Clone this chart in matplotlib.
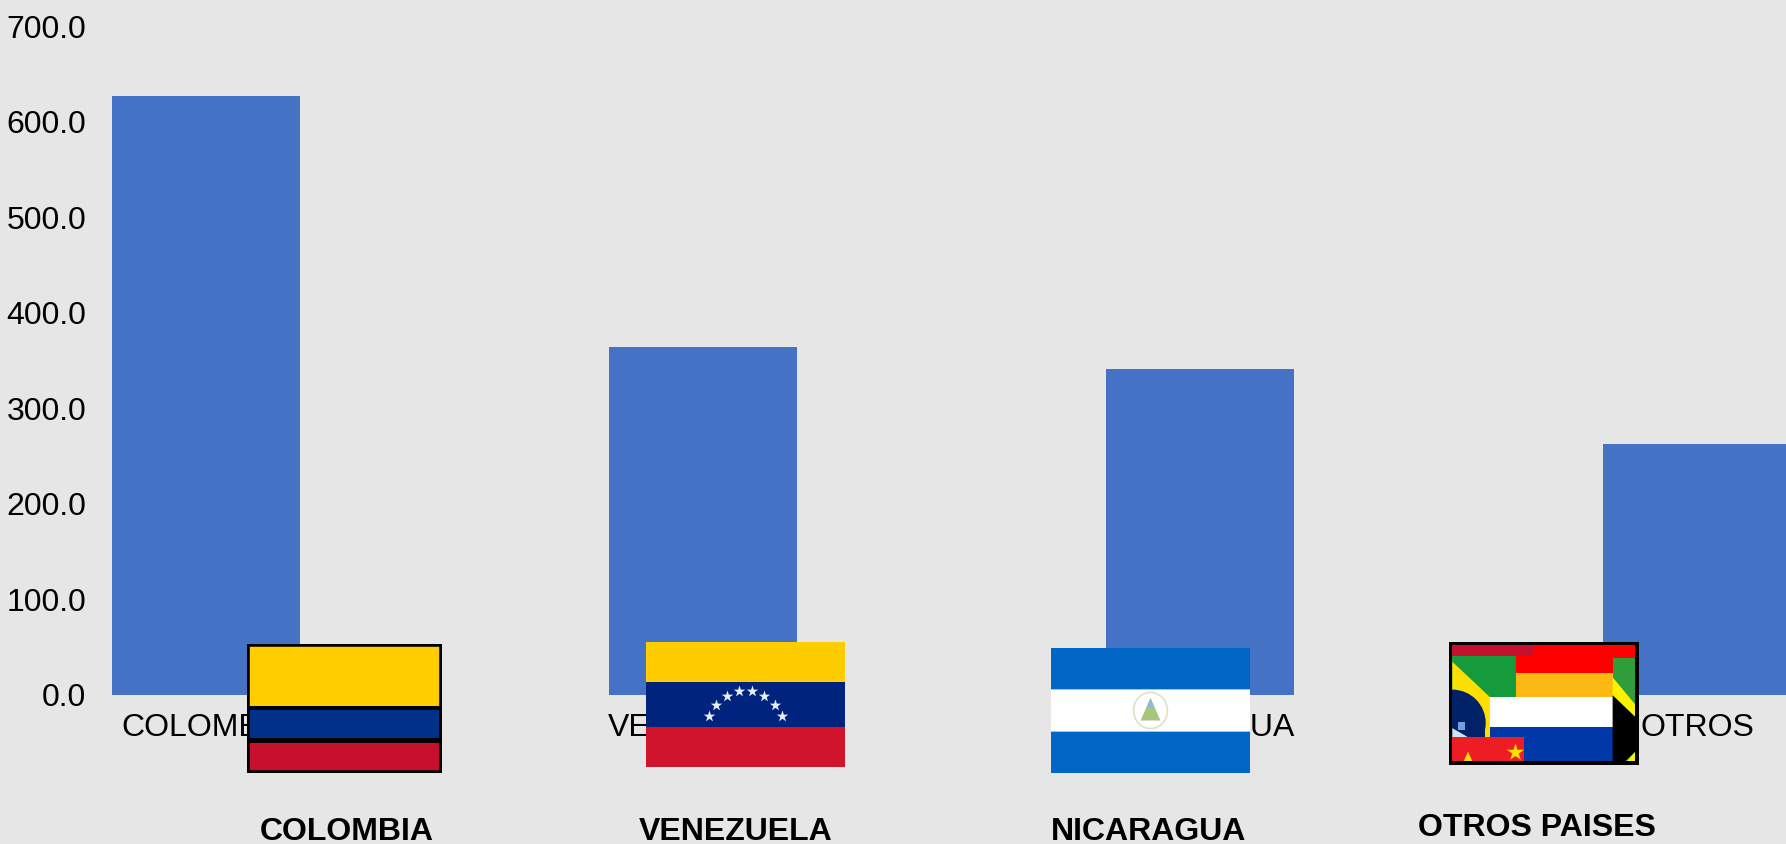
import numpy as np
from matplotlib import rcParams

rcParams['font.family'] = ['Liberation Sans', 'DejaVu Sans']
from matplotlib import pyplot as plt
from matplotlib.patches import Circle, Ellipse, Polygon, Rectangle

W, H = 1786, 844

categories = ["COLOMBIA", "VENEZUELA", "NICARAGUA", "OTROS"]
values = [626.5, 364.0, 341.0, 262.5]
y_ticks = [0, 100, 200, 300, 400, 500, 600, 700]
flag_names = ["COLOMBIA", "VENEZUELA", "NICARAGUA", "OTROS PAISES"]

BG = "#E6E6E6"


def px_axes(fig, x0, y0, x1, y1):
    # y measured from the top, in pixels
    ax = fig.add_axes([x0 / W, 1 - y1 / H, (x1 - x0) / W, (y1 - y0) / H])
    return ax


def stripes(ax, edges, colors):
    for i in range(len(colors)):
        ax.add_patch(Rectangle((0, edges[i]), 1, edges[i + 1] - edges[i], color=colors[i], lw=0))


def blank(ax, xlim=(0, 1), ylim=(1, 0)):
    ax.set_xlim(*xlim)
    ax.set_ylim(*ylim)
    ax.axis("off")


def flag_colombia(fig):
    ax = px_axes(fig, 247, 644, 442, 773)
    blank(ax)
    stripes(ax, [0, .48, .51, .73, .765, 1],
            ["#FFCD00", "black", "#003087", "black", "#C8102E"])
    ax.add_patch(Rectangle((0, 0), 1, 1, fill=False, ec="black", lw=4, clip_on=True))


def flag_venezuela(fig):
    ax = px_axes(fig, 646, 642, 845, 767)
    blank(ax)
    stripes(ax, [0, .317, .677, 1], ["#FFCC00", "#00247D", "#CF142B"])
    # arc of eight stars
    sx = [.315, .35, .405, .465, .535, .595, .65, .685]
    sy = [.595, .50, .43, .39, .39, .43, .50, .595]
    ax.scatter(sx, sy, marker="*", s=75, color="#E8EEF8", lw=0, zorder=3)


def flag_nicaragua(fig):
    ax = px_axes(fig, 1051, 648, 1250, 773)
    blank(ax)
    stripes(ax, [0, .33, .67, 1], ["#0067C6", "white", "#0067C6"])
    ax.add_patch(Rectangle((0, .325), 1, .012, color="#9CC8EC", lw=0))
    ax.add_patch(Rectangle((0, .663), 1, .012, color="#9CC8EC", lw=0))
    ax.add_patch(Ellipse((.5, .5), .17, .29, fill=False, ec="#E2DFCB", lw=1.2))
    ax.add_patch(Polygon([[.5, .40], [.45, .58], [.55, .58]], color="#A8C57E", lw=0))
    ax.add_patch(Polygon([[.5, .40], [.48, .48], [.52, .48]], color="#8DB9E0", lw=0))


def flag_otros(fig):
    # drawn in the pixel grid of a 3x crop of the flag
    ax = px_axes(fig, 1449, 642, 1639, 765)
    blank(ax, (58, 627), (405, 38))

    def rect(x0, y0, x1, y1, c, z=1):
        ax.add_patch(Rectangle((x0, y0), x1 - x0, y1 - y0, color=c, lw=0, zorder=z))

    def poly(pts, c, z=1):
        ax.add_patch(Polygon(pts, color=c, lw=0, zorder=z))

    rect(68, 48, 616, 86, "#FF0000")
    rect(68, 48, 310, 80, "#C8102E")
    rect(258, 80, 548, 130, "#FF0000")
    rect(258, 130, 548, 202, "#FDB913")
    rect(68, 80, 258, 202, "#169B3C")
    poly([[68, 97], [180, 202], [180, 322], [68, 322]], "#FFDF00", 2)
    ax.add_patch(Circle((68, 280), 100, color="#012169", lw=0, zorder=3))
    rect(68, 292, 165, 322, "#012169", 3)
    poly([[68, 295], [115, 322], [68, 322]], "#CFE6F2", 4)
    rect(84, 278, 106, 300, "#6FA0DC", 4)
    rect(180, 203, 548, 292, "white", 5)
    rect(180, 292, 548, 394, "#0038A8", 5)
    rect(68, 322, 282, 394, "#EE1C25", 6)
    ax.scatter([257], [365], marker="*", s=170, color="#FFDE00", lw=0, zorder=7)
    poly([[102, 394], [115, 365], [128, 394]], "#FFDE00", 7)
    rect(548, 86, 616, 394, "#2E9E3A", 5)
    poly([[548, 143], [616, 225], [616, 262], [548, 197]], "#FFF200", 6)
    poly([[548, 197], [616, 262], [616, 365], [585, 394], [548, 394]], "black", 6)
    poly([[616, 365], [616, 394], [590, 394]], "#FFF200", 6)
    for spine in [(58, 38, 627, 48), (58, 394, 627, 405), (58, 38, 68, 405), (616, 38, 627, 405)]:
        rect(*spine, "black", 8)


def main():
    fig = plt.figure(figsize=(W / 100, H / 100), dpi=100, facecolor=BG)

    # axes run off the right edge of the canvas, the last bar is cut there
    ax = px_axes(fig, 100, 26, W, 695)
    ax.set_facecolor(BG)
    xs = np.arange(len(categories))
    ax.bar(xs, values, width=188 / 497, color="#4472C4")
    ax.set_xlim((100 - 206) / 497, (W - 206) / 497)
    ax.set_ylim(0, 700)
    ax.set_yticks(y_ticks)
    ax.set_yticklabels([f"{t:.1f}" for t in y_ticks])
    ax.set_xticks(xs)
    ax.set_xticklabels(categories)
    ax.tick_params(length=0, labelsize=23, labelcolor="black")
    ax.tick_params(axis="x", pad=13)
    ax.tick_params(axis="y", pad=10)
    for s in ax.spines.values():
        s.set_visible(False)

    flag_colombia(fig)
    flag_venezuela(fig)
    flag_nicaragua(fig)
    flag_otros(fig)

    name_x = [347, 736, 1149, 1537]
    name_y = [832, 832, 832, 828]
    for i in range(len(flag_names)):
        fig.text(name_x[i] / W, 1 - name_y[i] / H, flag_names[i], fontsize=23, fontweight="bold",
                 ha="center", va="center", color="black")

    plt.savefig("out.png", dpi=100, facecolor=BG)


if __name__ == "__main__":
    main()
